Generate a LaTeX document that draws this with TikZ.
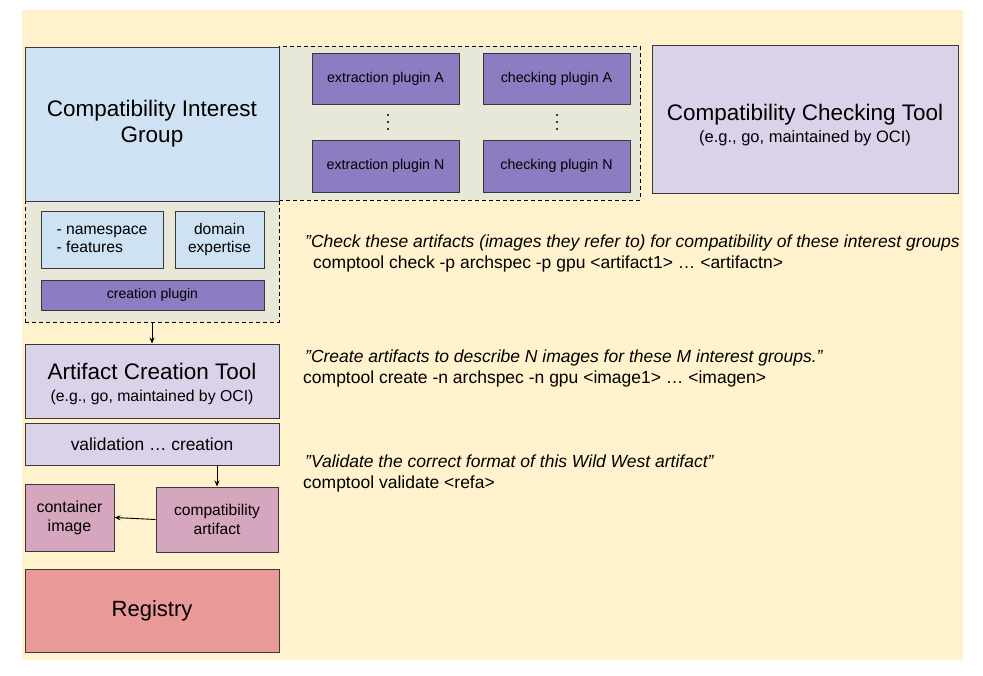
\documentclass[tikz,border=0pt]{standalone}
\usepackage{fontspec}
\setmainfont{Liberation Sans}
\usetikzlibrary{arrows.meta}
\usetikzlibrary{positioning}
\definecolor{bgyellow}{HTML}{FFF2CC}
\definecolor{grpgreen}{HTML}{E8E8D9}
\definecolor{cigblue}{HTML}{CFE2F3}
\definecolor{plugpurple}{HTML}{8E7CC3}
\definecolor{toollilac}{HTML}{D9D2E9}
\definecolor{artpink}{HTML}{D5A6BD}
\definecolor{regred}{HTML}{EA9999}
\definecolor{edgegray}{HTML}{383838}
\newcommand{\fsz}[1]{\fontsize{#1}{1.17\dimexpr#1pt\relax}\selectfont}
\tikzset{
  box/.style={draw=edgegray, line width=1pt, align=center, inner sep=0pt},
  grpbox/.style={draw=black, dash pattern=on 4pt off 3pt, fill=grpgreen, line width=0.9pt, inner sep=0pt},
  plugin/.style={box, fill=plugpurple, font=\fsz{14.2}},
  note/.style={anchor=base west, inner sep=0pt, font=\fsz{17.5}},
  flow/.style={-{Stealth[length=6pt,width=5pt]}, line width=0.9pt}
}

\begin{document}
\begin{tikzpicture}[x=1pt, y=-1pt]

  \useasboundingbox (0,0) rectangle (983,675);
  \fill[bgyellow] (22,10) rectangle (963,660);

  % dashed group areas
  \node[grpbox, minimum width=361pt, minimum height=154pt] (plugarea) at (459.5,123) {};
  \node[grpbox, minimum width=254pt, minimum height=122pt] (cigpart) at (152,261) {};

  % interest group
  \node[box, fill=cigblue, minimum width=254pt, minimum height=154pt, font=\fsz{22.5}] (cig) at (152,124) {Compatibility Interest\\Group};
  \node[box, fill=cigblue, minimum width=122pt, minimum height=57pt, font=\fsz{15.7}, align=left] (nsbox) at (102,239.5) {- namespace\\- features};
  \node[box, fill=cigblue, minimum width=89pt, minimum height=57pt, font=\fsz{15.5}] (dombox) at (219.5,239.5) {domain\\expertise};
  \node[plugin, minimum width=223pt, minimum height=30pt, font=\fsz{14}] (creaplug) at (152.5,295) {creation plugin};

  % plugins
  \node[plugin, minimum width=147pt, minimum height=51pt] (extA) at (385.5,78.5) {extraction plugin A};
  \node[plugin, minimum width=147pt, minimum height=51pt] (chkA) at (556.5,78.5) {checking plugin A};
  \node[plugin, minimum width=147pt, minimum height=52pt] (extN) at (385.5,166) {extraction plugin N};
  \node[plugin, minimum width=147pt, minimum height=52pt] (chkN) at (556.5,166) {checking plugin N};
  \foreach \dy in {115,122,129} {
    \fill (388,\dy) circle (1.1pt);
    \fill (557,\dy) circle (1.1pt);
  }

  % checking tool
  \node[box, fill=toollilac, minimum width=306pt, minimum height=148pt] (cct) at (805,119) {};
  \node[align=center, inner sep=0pt, font=\fsz{22.5}] (cctlabel) at (805,125) {Compatibility Checking Tool\\[-5pt]{\fsz{16.5}(e.g., go, maintained by OCI)}};

  % creation side
  \node[box, fill=toollilac, minimum width=254pt, minimum height=74pt] (act) at (152,381) {};
  \node[align=center, inner sep=0pt, font=\fsz{22.5}] (actlabel) at (152,384) {Artifact Creation Tool\\[-5pt]{\fsz{15.8}(e.g., go, maintained by OCI)}};
  \node[box, fill=toollilac, minimum width=254pt, minimum height=42pt, font=\fsz{17.4}] (valbox) at (152,444) {validation … creation};
  \node[box, fill=artpink, minimum width=122pt, minimum height=65pt, font=\fsz{15.6}] (cart) at (217,519.5) {compatibility\\artifact};
  \node[box, fill=artpink, minimum width=89pt, minimum height=67pt, font=\fsz{16}] (cimg) at (69.5,517.5) {container\\image};
  \node[box, fill=regred, minimum width=254pt, minimum height=83pt, font=\fsz{22}] (reg) at (152,610.5) {Registry};

  % arrows
  \draw[flow] (cigpart.south) -- (act.north);
  \draw[flow] (cart.north |- valbox.south) -- (cart.north);
  \draw[flow] (cart.west) -- (cimg.east);

  % commands
  \node[note] (chkq) at (305,247) {\itshape "Check these artifacts (images they refer to) for compatibility of these interest groups};
  \node[note] (chkc) at (313,268) {comptool check -p archspec -p gpu <artifact1> … <artifactn>};
  \node[note] (creq) at (305,362) {\itshape "Create artifacts to describe N images for these M interest groups."};
  \node[note] (crec) at (303,383) {comptool create -n archspec -n gpu <image1> … <imagen>};
  \node[note] (valq) at (305,467) {\itshape "Validate the correct format of this Wild West artifact"};
  \node[note] (valc) at (303,488) {comptool validate <refa>};

\end{tikzpicture}
\end{document}
